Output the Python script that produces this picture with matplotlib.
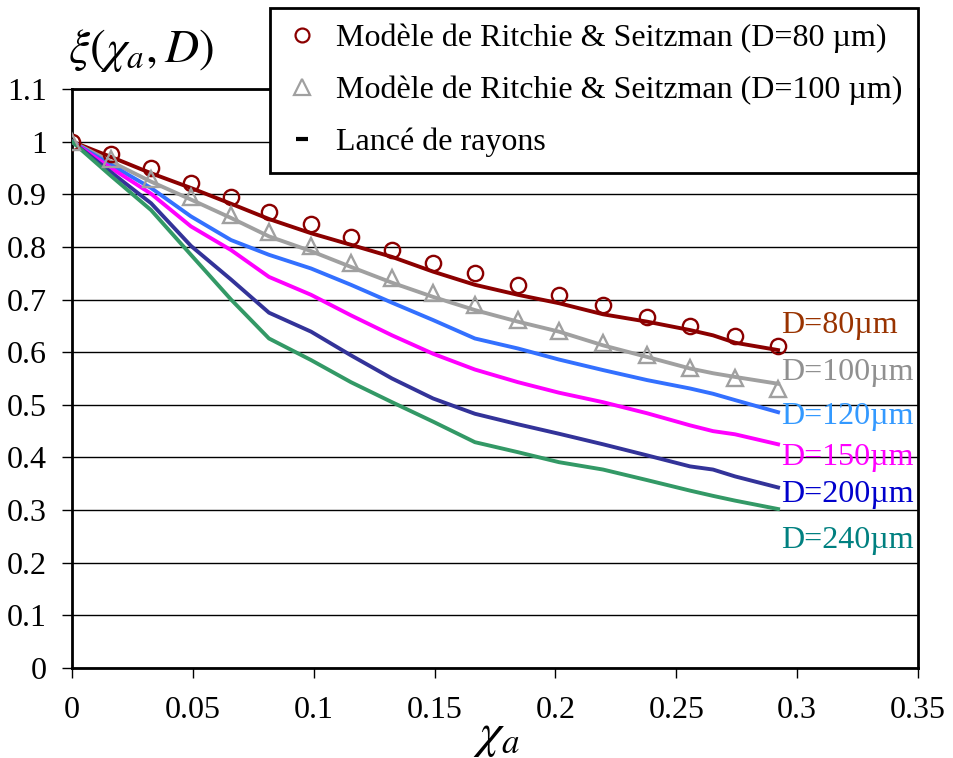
import numpy as np
import matplotlib
matplotlib.use('Agg')
import matplotlib.pyplot as plt
from matplotlib.lines import Line2D

plt.rcParams['font.family'] = ['Liberation Serif', 'DejaVu Serif']
plt.rcParams['mathtext.fontset'] = 'stix'

# x grid of the Ritchie & Seitzman model points
x_model = [0.0, 0.0161, 0.0327, 0.0492, 0.0658, 0.0815, 0.0989, 0.1154, 0.1324,
           0.1494, 0.1667, 0.1845, 0.2015, 0.2197, 0.2379, 0.2557, 0.2743, 0.2921]
rs_80 = [1.0, 0.977, 0.949, 0.921, 0.894, 0.867, 0.844, 0.818, 0.794,
         0.770, 0.751, 0.728, 0.709, 0.690, 0.666, 0.650, 0.631, 0.611]
rs_100 = [1.0, 0.967, 0.929, 0.895, 0.861, 0.829, 0.801, 0.770, 0.740,
          0.713, 0.690, 0.662, 0.640, 0.617, 0.594, 0.570, 0.550, 0.531]

# ray tracing curves (Lancé de rayons)
x_ray = [0.0, 0.0161, 0.0327, 0.0492, 0.0658, 0.0815, 0.0989, 0.1154, 0.1324,
         0.1494, 0.1667, 0.1845, 0.2015, 0.2197, 0.2379, 0.2557, 0.2652, 0.2743, 0.2921]
ray_80 = [1.0, 0.971, 0.940, 0.912, 0.882, 0.853, 0.826, 0.804, 0.781,
          0.753, 0.728, 0.709, 0.693, 0.672, 0.658, 0.642, 0.632, 0.618, 0.604]
ray_100 = [1.0, 0.962, 0.924, 0.890, 0.855, 0.820, 0.792, 0.762, 0.732,
           0.705, 0.680, 0.658, 0.639, 0.613, 0.591, 0.569, 0.560, 0.553, 0.540]
ray_120 = [1.0, 0.956, 0.912, 0.858, 0.813, 0.785, 0.759, 0.728, 0.694,
           0.661, 0.626, 0.607, 0.586, 0.566, 0.547, 0.531, 0.521, 0.509, 0.486]
ray_150 = [1.0, 0.950, 0.901, 0.839, 0.794, 0.743, 0.709, 0.670, 0.632,
           0.597, 0.567, 0.543, 0.523, 0.505, 0.484, 0.461, 0.450, 0.444, 0.425]
ray_200 = [1.0, 0.942, 0.883, 0.802, 0.738, 0.675, 0.639, 0.594, 0.550,
           0.512, 0.483, 0.463, 0.445, 0.425, 0.404, 0.383, 0.377, 0.364, 0.343]
ray_240 = [1.0, 0.935, 0.870, 0.785, 0.700, 0.626, 0.585, 0.543, 0.505,
           0.468, 0.429, 0.410, 0.391, 0.377, 0.357, 0.337, 0.327, 0.318, 0.302]

ray_curves = [ray_80, ray_100, ray_120, ray_150, ray_200, ray_240]
ray_colors = ['#8B0000', '#A0A0A0', '#3370FF', '#FF00FF', '#333399', '#339966']

labels = ['D=80µm', 'D=100µm', 'D=120µm', 'D=150µm', 'D=200µm', 'D=240µm']
label_colors = ['#993300', '#909090', '#3399FF', '#FF00FF', '#0000CC', '#008080']
label_y = [0.650, 0.562, 0.477, 0.400, 0.330, 0.242]
label_x = 0.2935

FS = 23

fig = plt.figure(figsize=(9.54, 7.58), dpi=100)
ax = fig.add_axes([72/954, 1-668/758, 846/954, 579/758])

for yv, c in zip(ray_curves, ray_colors):
  ax.plot(x_ray, yv, color=c, lw=2.8, solid_joinstyle='round', zorder=3)

ax.plot(x_model, rs_80, 'o', mfc='none', mec='#8B0000', ms=11, mew=1.7, zorder=4)
ax.plot(x_model, rs_100, '^', mfc='none', mec='#A0A0A0', ms=12, mew=1.7, zorder=4)

for lab, c, yy in zip(labels, label_colors, label_y):
  ax.text(label_x, yy, lab, color=c, fontsize=FS, va='center', ha='left')

ax.set_xlim(0, 0.35)
ax.set_ylim(0, 1.1)
ax.set_xticks(np.arange(0, 0.351, 0.05))
ax.set_xticklabels(['0', '0.05', '0.1', '0.15', '0.2', '0.25', '0.3', '0.35'])
ax.set_yticks(np.arange(0, 1.11, 0.1))
ax.set_yticklabels(['0', '0.1', '0.2', '0.3', '0.4', '0.5', '0.6', '0.7', '0.8', '0.9', '1', '1.1'])
ax.tick_params(labelsize=FS, direction='out', length=7, width=1, color='k')
ax.tick_params(axis='x', pad=13)
ax.tick_params(axis='y', pad=11)
ax.yaxis.grid(True, color='k', lw=1)
ax.set_axisbelow(True)
for s in ['left', 'right', 'top', 'bottom']:
  ax.spines[s].set_linewidth(2)
  ax.spines[s].set_color('k')

fig.text(68/954, 1-50/758, r'$\xi(\chi_a, D)$', fontsize=34, va='center', ha='left')
fig.text(496/954, 1-736/758, r'$\chi_a$', fontsize=36, va='center', ha='center')

handles = [
  Line2D([], [], marker='o', ls='none', mfc='none', mec='#8B0000', ms=10, mew=1.6),
  Line2D([], [], marker='^', ls='none', mfc='none', mec='#A0A0A0', ms=11, mew=1.6),
  Line2D([], [], marker='_', ls='none', color='k', ms=9, mew=3),
]
leg_labels = ['Modèle de Ritchie & Seitzman (D=80 µm)',
              'Modèle de Ritchie & Seitzman (D=100 µm)',
              'Lancé de rayons']
leg = fig.legend(handles, leg_labels, loc='upper right', bbox_to_anchor=(918/954, 1-8/758),
                 bbox_transform=fig.transFigure, fontsize=FS, frameon=True, fancybox=False,
                 framealpha=1, edgecolor='k', borderaxespad=0, handlelength=1.0,
                 handletextpad=0.55, labelspacing=0.7, borderpad=0.5)
leg.get_frame().set_linewidth(2)

plt.savefig('out.png', dpi=100)
